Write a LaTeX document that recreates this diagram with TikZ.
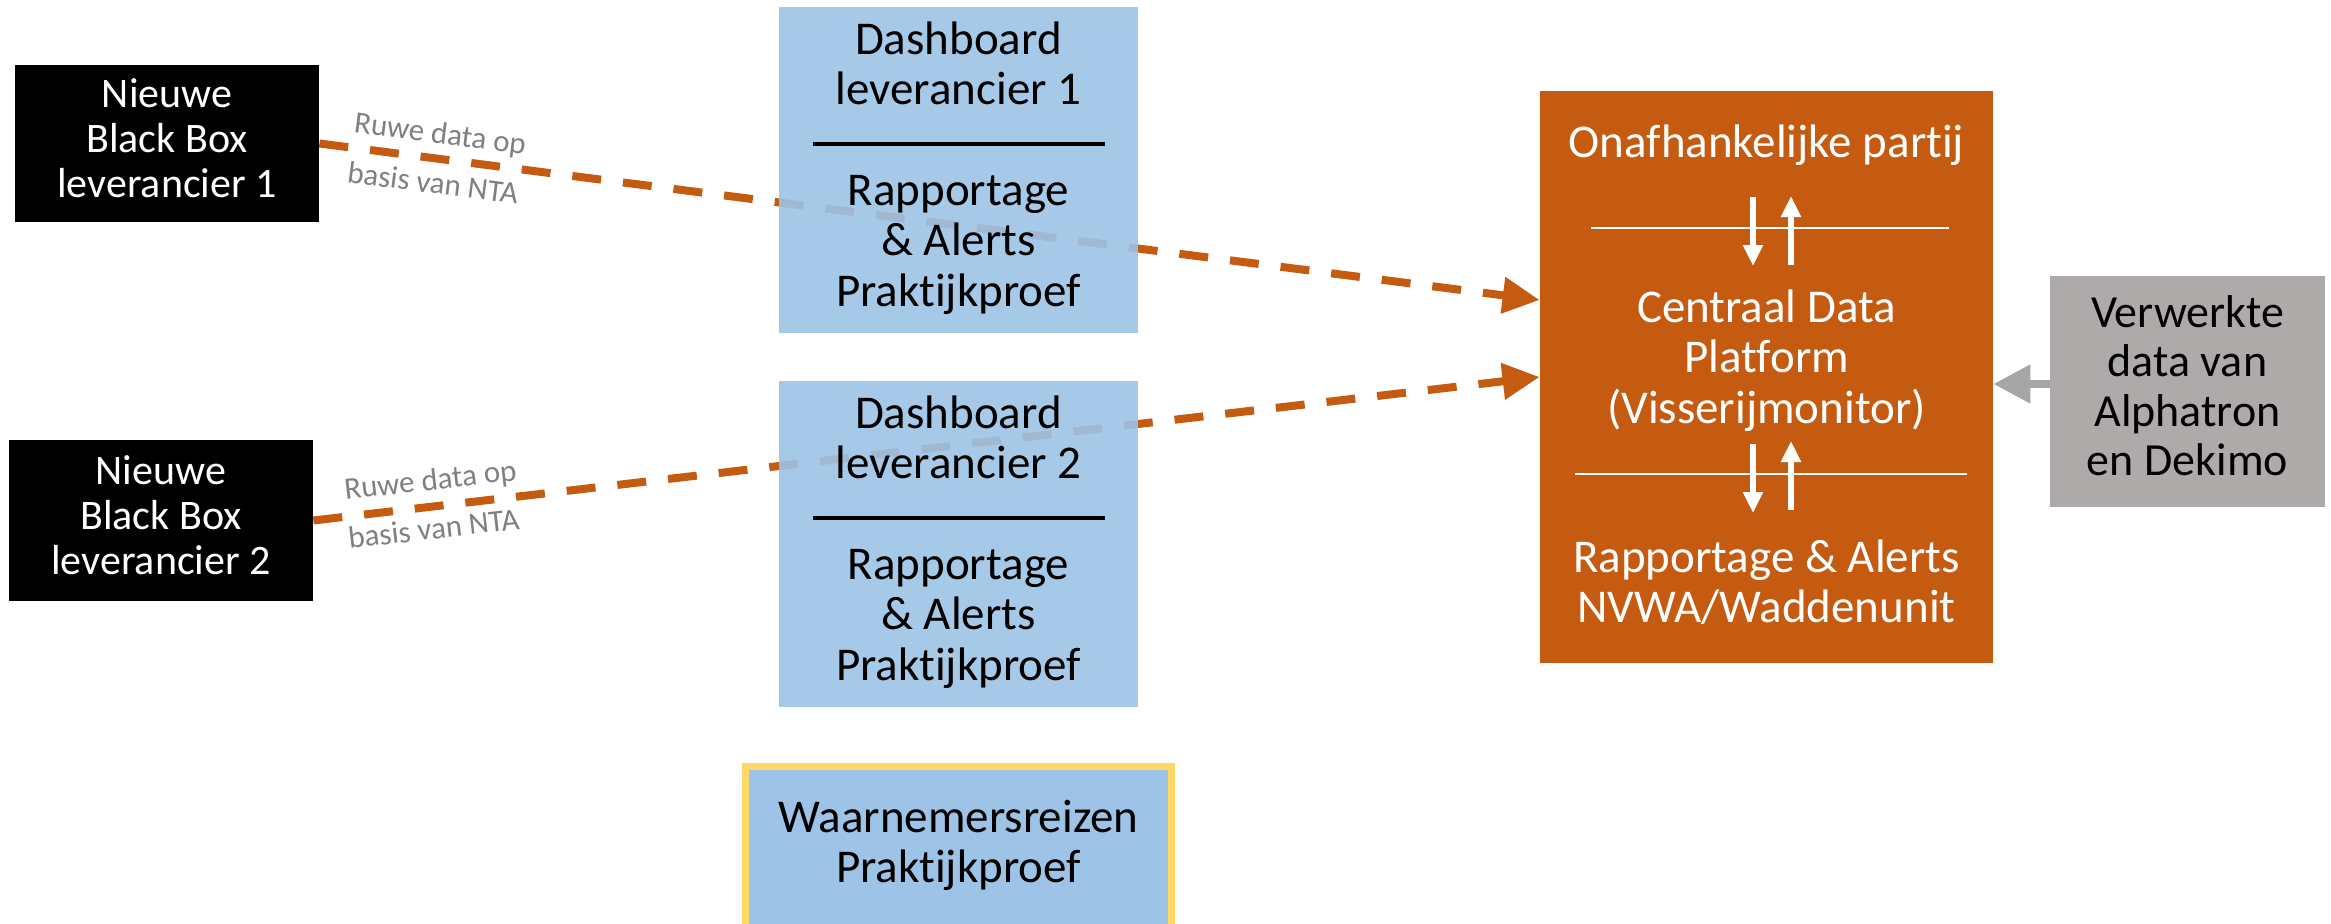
\documentclass[tikz,border=0pt]{standalone}
\usepackage{fontspec}
\setmainfont{Carlito}[Ligatures=NoCommon]
\usetikzlibrary{arrows.meta}
\pgfdeclarelayer{background}
\pgfsetlayers{background,main}
\definecolor{cOrange}{HTML}{C55A11}
\definecolor{cBlue}{HTML}{9DC3E6}
\definecolor{cYellow}{HTML}{FFD966}
\definecolor{cGreyBox}{HTML}{AEAAAA}
\definecolor{cGreyArrow}{HTML}{A6A6A6}
\definecolor{cLabel}{HTML}{808080}
\tikzset{
  bigtxt/.style={font=\fontsize{23.5}{25.2}\selectfont},
  blackbox/.style={fill=black, text=white, minimum width=152pt, inner sep=0pt,
    align=center, font=\fontsize{21}{22.5}\selectfont},
  dashbox/.style={fill=cBlue, fill opacity=0.9, text opacity=1, minimum width=179.5pt,
    minimum height=163pt, inner sep=0pt, align=center, bigtxt},
  cdpbox/.style={fill=cOrange, minimum width=226.5pt, minimum height=286pt, inner sep=0pt},
  cdptxt/.style={text=white, inner sep=0pt, align=center, bigtxt},
  greybox/.style={fill=cGreyBox, minimum width=137.5pt, minimum height=115.5pt, inner sep=0pt,
    align=center, font=\fontsize{23}{24.65}\selectfont},
  obsbox/.style={fill=cBlue, draw=cYellow, line width=3.5pt, minimum width=213pt,
    minimum height=80.5pt, inner sep=0pt, align=center, font=\fontsize{23.5}{25}\selectfont},
  rawline/.style={draw=cOrange, line width=4pt, dash pattern=on 14.5pt off 11pt,
    -{Triangle[length=18.5pt,width=17.5pt]}},
  greyarrow/.style={draw=cGreyArrow, line width=4pt, -{Triangle[length=18.5pt,width=18.5pt]}},
  whitearrow/.style={draw=white, line width=3pt, -{Triangle[length=10.5pt,width=9.5pt]}},
  whiterule/.style={draw=white, line width=1.3pt},
  rawlabel/.style={text=cLabel, inner sep=0pt, anchor=base, font=\fontsize{15.5}{18}\selectfont}
}
\begin{document}
\begin{tikzpicture}[x=0.5pt,y=-0.5pt]
\useasboundingbox (0,0) rectangle (2331,923);

% black boxes
\node[blackbox, minimum height=78.5pt] (bb1) at (167,143.5)
  {\strut Nieuwe\\\strut Black Box\\\strut leverancier 1};
\node[blackbox, minimum height=80.5pt] (bb2) at (161,520.5)
  {\strut Nieuwe\\\strut Black Box\\\strut leverancier 2};

% dashboard boxes
\node[dashbox] (dash1) at (958.5,170)
  {\strut Dashboard\\\strut leverancier 1\\\strut\rule[4.6pt]{146pt}{1.6pt}\\\strut Rapportage\\\strut \& Alerts\\\strut Praktijkproef};
\node[dashbox] (dash2) at (958.5,544)
  {\strut Dashboard\\\strut leverancier 2\\\strut\rule[4.6pt]{146pt}{1.6pt}\\\strut Rapportage\\\strut \& Alerts\\\strut Praktijkproef};

% observer trips
\node[obsbox] (obs) at (958.5,847)
  {\strut Waarnemersreizen\\\strut Praktijkproef};

% central data platform
\node[cdpbox] (cdp) at (1766.5,377) {};
\node[cdptxt, anchor=base] (onaf) at (1766.5,157) {Onafhankelijke partij};
\node[cdptxt, anchor=north] (cdptext) at (1766.5,286.7)
  {\strut Centraal Data\\\strut Platform\\\strut (Visserijmonitor)};
\node[cdptxt, anchor=north] (rap) at (1766.5,536.7)
  {\strut Rapportage \& Alerts\\\strut NVWA/Waddenunit};

\draw[whiterule] (1591,228) -- (1949,228);
\draw[whiterule] (1575,474) -- (1967,474);

\coordinate (d1s) at (1753,197); \coordinate (d1e) at (1753,266);
\coordinate (u1s) at (1791,265); \coordinate (u1e) at (1791,196);
\coordinate (d2s) at (1753,444); \coordinate (d2e) at (1753,513);
\coordinate (u2s) at (1791,510); \coordinate (u2e) at (1791,441);
\draw[whitearrow] (d1s) -- (d1e);
\draw[whitearrow] (u1s) -- (u1e);
\draw[whitearrow] (d2s) -- (d2e);
\draw[whitearrow] (u2s) -- (u2e);

% grey box
\node[greybox] (gr) at (2187.5,391.5)
  {\strut Verwerkte\\\strut data van\\\strut Alphatron\\\strut en Dekimo};
\draw[greyarrow] ([yshift=3.75pt]gr.west) -- ([yshift=-3.5pt]cdp.east);

% raw data connectors (behind the dashboard boxes)
\begin{pgfonlayer}{background}
\draw[rawline] (bb1.east) -- ([yshift=38.5pt]cdp.west);
\draw[rawline] (bb2.east) -- (cdp.west);
\end{pgfonlayer}

% labels
\node[rawlabel, rotate=-7.3] (lab1a) at (439,143.7) {Ruwe data op};
\node[rawlabel, rotate=-7.3] (lab1b) at (431.8,193.1) {basis van NTA};
\node[rawlabel, rotate=6.55] (lab2a) at (431.4,490) {Ruwe data op};
\node[rawlabel, rotate=6.55] (lab2b) at (434.9,539) {basis van NTA};
\end{tikzpicture}
\end{document}
